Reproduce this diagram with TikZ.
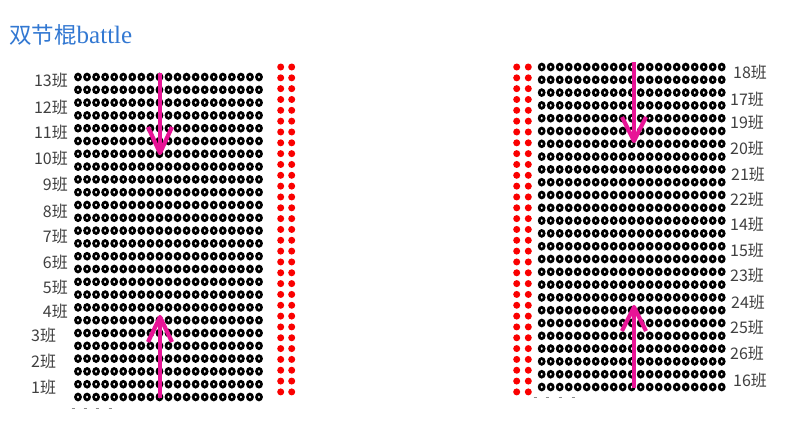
\documentclass[tikz,border=0pt]{standalone}
\usepackage{fontspec}
\setmainfont{Liberation Serif}
\newfontfamily\cjk{Noto Sans CJK SC}
\definecolor{pinkarrow}{RGB}{232,20,150}
\definecolor{labelgray}{RGB}{64,64,64}
\definecolor{titleblue}{RGB}{50,120,210}
\definecolor{dotred}{RGB}{250,0,0}
\begin{document}
\begin{tikzpicture}[x=1pt,y=-1pt,
  ring/.style={line width=2.7pt, draw=black},
  reddot/.style={fill=dotred},
  lbl/.style={font=\cjk\fontsize{16}{17}\selectfont, text=labelgray, inner sep=0pt},
  arr/.style={draw=pinkarrow, line width=4.2pt, line join=round},
  gdash/.style={draw=black!45, line width=1pt}]
\useasboundingbox (0,0) rectangle (800,431);
\fill[white] (0,0) rectangle (800,431);

% title
\node[anchor=west, text=titleblue, inner sep=0pt] (title) at (9,35)
  {{\cjk\fontsize{22.5}{24}\selectfont 双节棍}{\fontsize{25}{26}\selectfont battle}};

% left block of rings
\foreach \r in {0,...,25} \foreach \c in {0,...,20}
  \draw[ring] ({78+\c*9.05},{77+\r*12.8}) ellipse [x radius=2.5pt, y radius=2.9pt];
% right block of rings
\foreach \r in {0,...,25} \foreach \c in {0,...,20}
  \draw[ring] ({541.7+\c*9},{67+\r*12.8}) ellipse [x radius=2.5pt, y radius=2.9pt];

% red dots
\foreach \r in {0,...,30} {
  \fill[reddot] (280.7,{67+\r*10.83}) circle [radius=3.5pt];
  \fill[reddot] (291.7,{67+\r*10.83}) circle [radius=3.5pt];
  \fill[reddot] (516.7,{67+\r*10.83}) circle [radius=3.5pt];
  \fill[reddot] (528.3,{67+\r*10.83}) circle [radius=3.5pt];
}

% small dashes under the blocks
\foreach \x in {73,85,97,110} \draw[gdash] (\x-1.5,408) -- (\x+1.5,408);
\foreach \x in {535,547,560,573} \draw[gdash] (\x-1.5,397) -- (\x+1.5,397);

% left labels
\node[lbl, anchor=east] (L13) at (68,80) {13班};
\node[lbl, anchor=east] (L12) at (68,107) {12班};
\node[lbl, anchor=east] (L11) at (68,132) {11班};
\node[lbl, anchor=east] (L10) at (68,158) {10班};
\node[lbl, anchor=east] (L9) at (68,184) {9班};
\node[lbl, anchor=east] (L8) at (68,211) {8班};
\node[lbl, anchor=east] (L7) at (68,236) {7班};
\node[lbl, anchor=east] (L6) at (68,262) {6班};
\node[lbl, anchor=east] (L5) at (68,287) {5班};
\node[lbl, anchor=east] (L4) at (68,311) {4班};
\node[lbl, anchor=west] (L3) at (31,335) {3班};
\node[lbl, anchor=west] (L2) at (31,361) {2班};
\node[lbl, anchor=west] (L1) at (31,387) {1班};

% right labels
\node[lbl, anchor=west] (R18) at (733,72) {18班};
\node[lbl, anchor=west] (R17) at (730,99) {17班};
\node[lbl, anchor=west] (R19) at (730,122) {19班};
\node[lbl, anchor=west] (R20) at (730,148) {20班};
\node[lbl, anchor=west] (R21) at (731,174) {21班};
\node[lbl, anchor=west] (R22) at (730,199) {22班};
\node[lbl, anchor=west] (R14) at (730,224) {14班};
\node[lbl, anchor=west] (R15) at (730,250) {15班};
\node[lbl, anchor=west] (R23) at (730,275) {23班};
\node[lbl, anchor=west] (R24) at (731,302) {24班};
\node[lbl, anchor=west] (R25) at (730,327) {25班};
\node[lbl, anchor=west] (R26) at (730,353) {26班};
\node[lbl, anchor=west] (R16) at (733,380) {16班};

% arrows
\coordinate (a1s) at (160,73);  \coordinate (a1t) at (160,153);
\coordinate (a1l) at (148,127); \coordinate (a1r) at (172,127);
\draw[arr] (a1s) -- (a1t); \draw[arr] (a1l) -- (a1t) -- (a1r);

\coordinate (a2s) at (160,398); \coordinate (a2t) at (160,317);
\coordinate (a2l) at (148,342); \coordinate (a2r) at (172,342);
\draw[arr] (a2s) -- (a2t); \draw[arr] (a2l) -- (a2t) -- (a2r);

\coordinate (a3s) at (634,62);  \coordinate (a3t) at (634,141);
\coordinate (a3l) at (622,117); \coordinate (a3r) at (646,117);
\draw[arr] (a3s) -- (a3t); \draw[arr] (a3l) -- (a3t) -- (a3r);

\coordinate (a4s) at (634,388); \coordinate (a4t) at (634,307);
\coordinate (a4l) at (622,331); \coordinate (a4r) at (646,331);
\draw[arr] (a4s) -- (a4t); \draw[arr] (a4l) -- (a4t) -- (a4r);
\end{tikzpicture}
\end{document}
